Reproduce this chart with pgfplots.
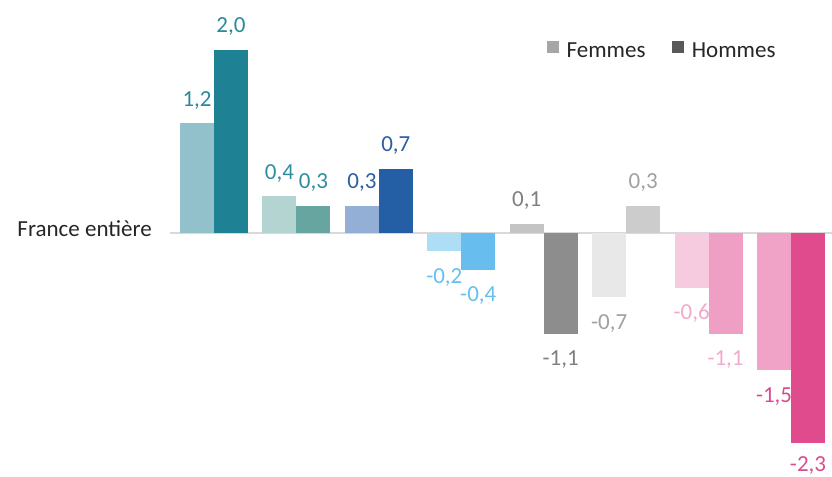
\documentclass[border=0pt]{standalone}
\usepackage{pgfplots}
\pgfplotsset{compat=1.18}
\usepackage{fontspec}
\setmainfont{Carlito}

\definecolor{aL}{HTML}{93C1CB}\definecolor{aD}{HTML}{1E8294}\definecolor{aT}{HTML}{2A8A9A}
\definecolor{bL}{HTML}{B4D4D2}\definecolor{bD}{HTML}{67A6A0}\definecolor{bT}{HTML}{2E8E9E}
\definecolor{cL}{HTML}{93AFD5}\definecolor{cD}{HTML}{245EA4}\definecolor{cT}{HTML}{2C5FA5}
\definecolor{dL}{HTML}{AEDDF6}\definecolor{dD}{HTML}{67BEEE}\definecolor{dT}{HTML}{66BFEF}
\definecolor{eL}{HTML}{C4C4C4}\definecolor{eD}{HTML}{8D8D8D}\definecolor{eT}{HTML}{7F7F7F}
\definecolor{fL}{HTML}{E8E8E8}\definecolor{fD}{HTML}{CCCCCC}\definecolor{fT}{HTML}{A0A0A0}
\definecolor{gL}{HTML}{F7CBDF}\definecolor{gD}{HTML}{EF9FC4}\definecolor{gT}{HTML}{F2AACB}
\definecolor{hL}{HTML}{F0A2C7}\definecolor{hD}{HTML}{DF4B8C}\definecolor{hT}{HTML}{DC4B8E}
\definecolor{legF}{HTML}{A6A6A6}\definecolor{legH}{HTML}{595959}
\definecolor{txt}{HTML}{262626}\definecolor{zline}{HTML}{D9D9D9}

\tikzset{
  labpos/.style={anchor=base, inner sep=0pt, yshift=17bp},
  labneg/.style={anchor=base, inner sep=0pt, yshift=-32bp},
  labnegend/.style={anchor=base, inner sep=0pt, yshift=-28bp},
}
% #1 x (bar centre), #2 value, #3 fill, #4 label colour, #5 labpos/labneg
\newcommand{\onebar}[5]{%
  \addplot[ybar, bar width=0.4125, bar shift=0, fill=#3, draw=none, forget plot,
    nodes near coords, every node near coord/.append style={text=#4, #5}]
    coordinates {(#1,#2)};}

\begin{document}
\fontsize{23bp}{27bp}\selectfont
\begin{tikzpicture}
\useasboundingbox (-170bp,0bp) rectangle (662bp,477bp);
\begin{axis}[
  at={(0,0)}, anchor=south west,
  scale only axis, width=662bp, height=477bp,
  xmin=0.466, xmax=8.497, ymin=-2.667, ymax=2.546,
  clip=false,
  axis line style={draw=none},
  major tick length=0pt,
  xtick=\empty,
  ytick={0}, yticklabels={France entière},
  yticklabel style={anchor=base east, inner sep=0pt, xshift=-18bp, yshift=-4bp, text=txt},
  /pgf/number format/.cd, fixed, fixed zerofill, precision=1, use comma, assume math mode=true,
  /pgfplots/.cd,
  legend style={at={(rel axis cs:0.5695,0.893)}, anchor=west, draw=none, fill=none,
    inner sep=0pt, nodes={inner sep=0pt, text=txt},
    /tikz/every odd column/.append style={column sep=8bp},
    /tikz/every even column/.append style={column sep=27bp}},
  legend columns=2,
]
\addlegendimage{legend image code/.code={\fill[legF] (0bp,-1bp) rectangle (11bp,10bp);}}
\addlegendentry{Femmes}
\addlegendimage{legend image code/.code={\fill[legH] (0bp,-1bp) rectangle (11bp,10bp);}}
\addlegendentry{Hommes}

\addplot[sharp plot, draw=zline, line width=1.2bp, forget plot] coordinates {(0.466,0) (8.497,0)};

\onebar{0.794}{1.2}{aL}{aT}{labpos}
\onebar{1.206}{2.0}{aD}{aT}{labpos}
\onebar{1.794}{0.4}{bL}{bT}{labpos}
\onebar{2.206}{0.3}{bD}{bT}{labpos}
\onebar{2.794}{0.3}{cL}{cT}{labpos}
\onebar{3.206}{0.7}{cD}{cT}{labpos}
\onebar{3.794}{-0.2}{dL}{dT}{labneg}
\onebar{4.206}{-0.4}{dD}{dT}{labneg}
\onebar{4.794}{0.1}{eL}{eT}{labpos}
\onebar{5.206}{-1.1}{eD}{eT}{labneg}
\onebar{5.794}{-0.7}{fL}{fT}{labneg}
\onebar{6.206}{0.3}{fD}{fT}{labpos}
\onebar{6.794}{-0.6}{gL}{gT}{labneg}
\onebar{7.206}{-1.1}{gD}{gT}{labneg}
\onebar{7.794}{-1.5}{hL}{hT}{labneg}
\onebar{8.206}{-2.3}{hD}{hT}{labnegend}
\end{axis}
\end{tikzpicture}
\end{document}
